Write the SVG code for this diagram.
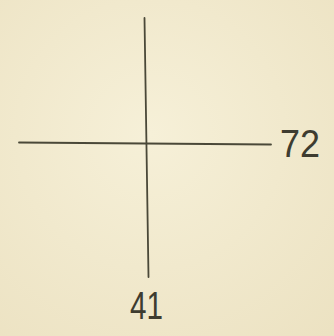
<svg xmlns="http://www.w3.org/2000/svg" width="334" height="336" viewBox="0 0 334 336">
<style>
.ax{stroke:#4a4838;stroke-width:1.8;stroke-linecap:round;fill:none}
.lbl{font-family:"Liberation Sans",Arial,sans-serif;font-size:38px;fill:#3e3c30;font-weight:normal}
</style>
<defs>
<radialGradient id="paper" cx="0.45" cy="0.4" r="0.8">
<stop offset="0" stop-color="#f6f0d8"/>
<stop offset="1" stop-color="#ece2c2"/>
</radialGradient>
</defs>
<rect width="334" height="336" fill="url(#paper)"/>
<g id="connectors">
<line class="ax" x1="144.5" y1="18" x2="148.5" y2="277"/>
<line class="ax" x1="19" y1="142.5" x2="271" y2="144.5"/>
</g>
<g id="label-72"><text class="lbl" x="280" y="157" textLength="40" lengthAdjust="spacingAndGlyphs">72</text></g>
<g id="label-41"><text class="lbl" x="130" y="319" textLength="33" lengthAdjust="spacingAndGlyphs">41</text></g>
</svg>
